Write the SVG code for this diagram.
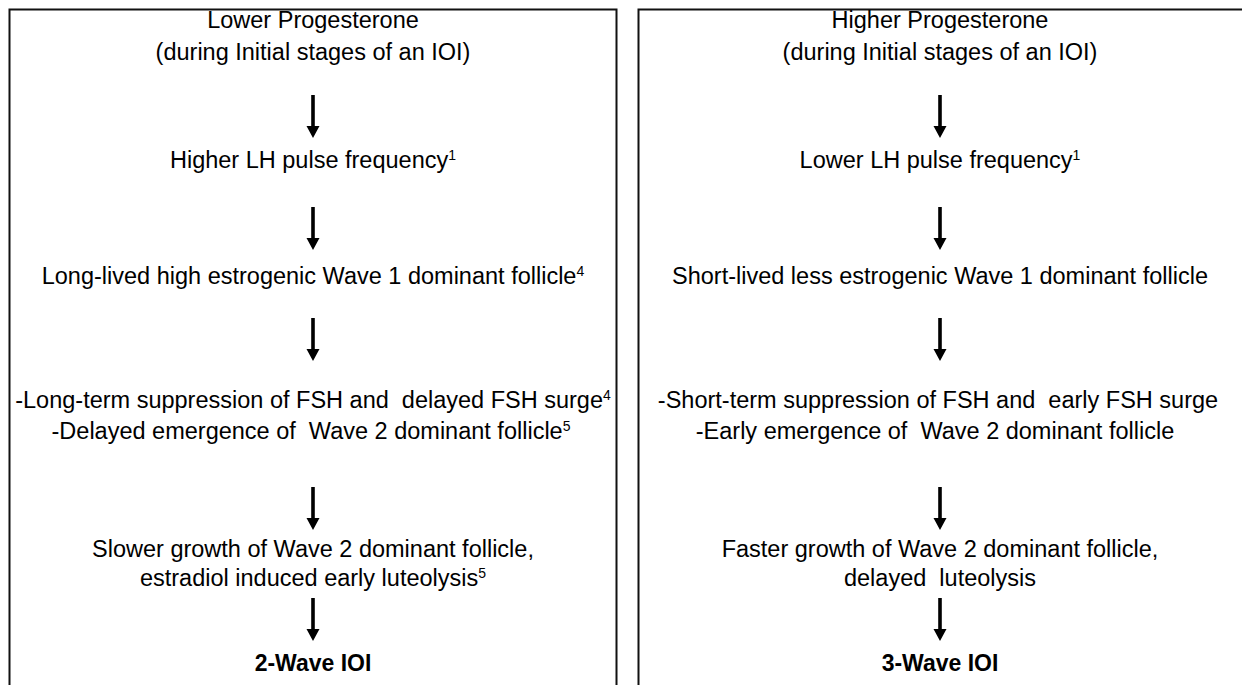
<svg xmlns="http://www.w3.org/2000/svg" width="1242" height="685" viewBox="0 0 1242 685">
<defs>
<style>
.t{font-family:"Liberation Sans",Arial,sans-serif;font-size:23.5px;fill:#000;text-anchor:middle;white-space:pre}
.b{font-weight:bold;font-size:23px}
.sup{font-size:14px}
.box{fill:none;stroke:#111;stroke-width:2}
.arr{fill:#000}
</style>
<path id="ah" d="M-1.8,0 H1.8 V31 H6.5 L0,43 L-6.5,31 H-1.8 Z"/>
</defs>
<rect width="1242" height="685" fill="#fff"/>
<g id="left-panel">
<path class="box" d="M9.5,690 V9.5 H616.5 V690"/>
</g>
<g id="right-panel">
<path class="box" d="M638.5,690 V9.5 H1250"/>
</g>
<g id="left-n1"><text class="t" x="313" y="28">Lower Progesterone</text><text class="t" x="313" y="60">(during Initial stages of an IOI)</text></g>
<g id="left-n2"><text class="t" x="313" y="168">Higher LH pulse frequency<tspan class="sup" dy="-8">1</tspan></text></g>
<g id="left-n3"><text class="t" x="313" y="284">Long-lived high estrogenic Wave 1 dominant follicle<tspan class="sup" dy="-8">4</tspan></text></g>
<g id="left-n4"><text class="t" x="313" y="408" xml:space="preserve">-Long-term suppression of FSH and  delayed FSH surge<tspan class="sup" dy="-8">4</tspan></text><text class="t" x="311" y="439" xml:space="preserve">-Delayed emergence of  Wave 2 dominant follicle<tspan class="sup" dy="-8">5</tspan></text></g>
<g id="left-n5"><text class="t" x="313" y="557">Slower growth of Wave 2 dominant follicle,</text><text class="t" x="313" y="586">estradiol induced early luteolysis<tspan class="sup" dy="-8">5</tspan></text></g>
<g id="left-n6"><text class="t b" x="313" y="671">2-Wave IOI</text></g>
<g id="right-n1"><text class="t" x="940" y="28">Higher Progesterone</text><text class="t" x="940" y="60">(during Initial stages of an IOI)</text></g>
<g id="right-n2"><text class="t" x="940" y="168">Lower LH pulse frequency<tspan class="sup" dy="-8">1</tspan></text></g>
<g id="right-n3"><text class="t" x="940" y="284">Short-lived less estrogenic Wave 1 dominant follicle</text></g>
<g id="right-n4"><text class="t" x="938" y="408" xml:space="preserve">-Short-term suppression of FSH and  early FSH surge</text><text class="t" x="935" y="439" xml:space="preserve">-Early emergence of  Wave 2 dominant follicle</text></g>
<g id="right-n5"><text class="t" x="940" y="557">Faster growth of Wave 2 dominant follicle,</text><text class="t" x="940" y="586" xml:space="preserve">delayed  luteolysis</text></g>
<g id="right-n6"><text class="t b" x="940" y="671">3-Wave IOI</text></g>
<g id="connectors" class="arr">
<use href="#ah" x="313" y="95"/>
<use href="#ah" x="313" y="207"/>
<use href="#ah" x="313" y="318"/>
<use href="#ah" x="313" y="487"/>
<use href="#ah" x="313" y="598"/>
<use href="#ah" x="940" y="95"/>
<use href="#ah" x="940" y="207"/>
<use href="#ah" x="940" y="318"/>
<use href="#ah" x="940" y="487"/>
<use href="#ah" x="940" y="598"/>
</g>
</svg>
